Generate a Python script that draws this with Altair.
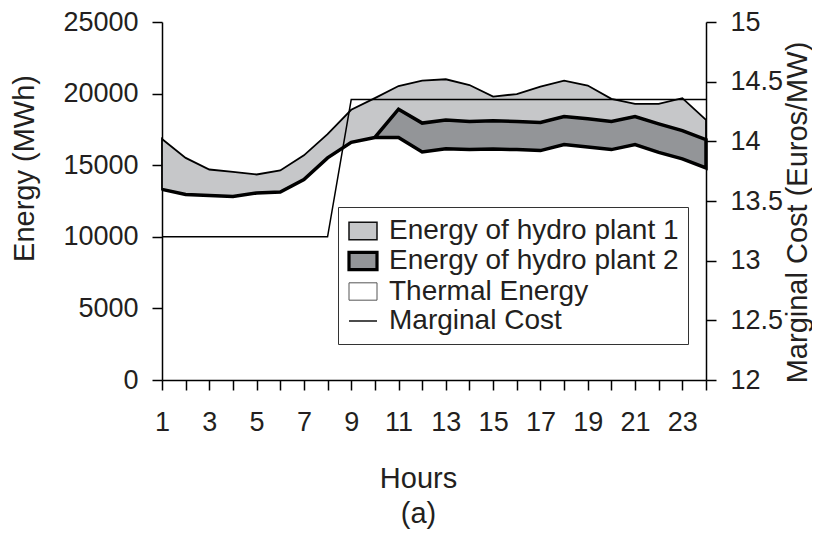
import altair as alt
import pandas as pd

hours = list(range(1, 25))
thermal = [13310, 12960, 12890, 12820, 13060, 13130, 14000, 15510, 16600, 16940,
           16940, 15920, 16150, 16090, 16130, 16090, 16020, 16440, 16270, 16090,
           16440, 15900, 15440, 14810]
hydro2 = [0, 0, 0, 0, 0, 0, 0, 0, 0, 0,
          1970, 2020, 2000, 1970, 1970, 1970, 1970, 1960, 1970, 1970,
          1960, 1990, 1970, 1970]
hydro1 = [3520, 2550, 1810, 1720, 1290, 1500, 1690, 1660, 2270, 2740,
          1620, 2960, 2850, 2540, 1690, 1910, 2500, 2500, 2320, 1570,
          880, 1390, 2270, 1390]
marginal_cost = [13.2, 13.2, 13.2, 13.2, 13.2, 13.2, 13.2, 13.2,
                 14.35, 14.35, 14.35, 14.35, 14.35, 14.35, 14.35, 14.35,
                 14.35, 14.35, 14.35, 14.35, 14.35, 14.35, 14.35, 14.35]
series_names = ["Energy of hydro plant 1", "Energy of hydro plant 2",
                "Thermal Energy", "Marginal Cost"]
energy_ticks = [0, 5000, 10000, 15000, 20000, 25000]
cost_ticks = [12, 12.5, 13, 13.5, 14, 14.5, 15]

df = pd.DataFrame({"hour": hours, "thermal": thermal, "hydro2": hydro2,
                   "hydro1": hydro1, "mc": marginal_cost})
df["mid"] = df["thermal"] + df["hydro2"]
df["top"] = df["mid"] + df["hydro1"]

legend_df = pd.DataFrame({"series": series_names})

FONT = "Liberation Sans"
TXT = "#231f20"

x_enc = alt.X("hour:Q",
              scale=alt.Scale(domain=[1, 24], nice=False, zero=False),
              axis=alt.Axis(values=hours, labelExpr="datum.value % 2 == 1 ? datum.label : ''",
                            title=["Hours", "(a)"], titleX=256, titleY=107,
                            titleAlign="center", titleBaseline="alphabetic",
                            titleLineHeight=35, tickSize=10, labelPadding=19,
                            labelFlush=False, labelOverlap=False))

left_axis = alt.Axis(values=energy_ticks, format="d", title="Energy (MWh)",
                     titleAngle=270, titleX=-129, titleY=146, titleAlign="center",
                     titleBaseline="alphabetic", tickSize=10, labelPadding=14,
                     labelFlush=False, labelOverlap=False)
y_scale = alt.Scale(domain=[0, 25000], nice=False)

base = alt.Chart(df)

area1 = base.mark_area(fill="#c6c7c9", stroke="black", strokeWidth=1.8,
                       strokeJoin="miter").encode(
    x=x_enc,
    y=alt.Y("top:Q", scale=y_scale, axis=left_axis),
    y2="mid:Q")

area2 = base.mark_area(fill="#939598", stroke="black", strokeWidth=3.5,
                       strokeJoin="miter").encode(
    x=x_enc,
    y=alt.Y("mid:Q", scale=y_scale, axis=left_axis),
    y2="thermal:Q")

leg = alt.Legend(orient="none", legendX=176, legendY=185, title=None)
legend_layer = alt.Chart(legend_df).transform_filter(
    alt.datum.series == "__none__").mark_point(
    filled=True, opacity=1, size=784).encode(
    fill=alt.Fill("series:N", scale=alt.Scale(domain=series_names,
                  range=["#c6c7c9", "#939598", "#ffffff", "#000000"]), legend=leg),
    stroke=alt.Stroke("series:N", scale=alt.Scale(domain=series_names,
                      range=["#111111", "#000000", "#555555", "#111111"]), legend=leg),
    shape=alt.Shape("series:N", scale=alt.Scale(domain=series_names,
                    range=["M-1,-0.62H1V0.62H-1Z", "M-1,-0.62H1V0.62H-1Z",
                           "M-1,-0.62H1V0.62H-1Z", "M-1,0H1"]), legend=leg),
    strokeWidth=alt.StrokeWidth("series:N", scale=alt.Scale(type="ordinal",
                                domain=series_names, range=[1.5, 3.2, 1.0, 1.5]),
                                legend=leg),
)

left = alt.layer(area1, area2, legend_layer)

line = base.mark_line(color="black", strokeWidth=1.5).encode(
    x=x_enc,
    y=alt.Y("mc:Q", scale=alt.Scale(domain=[12, 15], nice=False, zero=False),
            axis=alt.Axis(orient="right", values=cost_ticks, format="~g",
                          title="Marginal Cost (Euros/MW)", titleAngle=270,
                          titleX=100, titleY=190, titleAlign="center",
                          titleBaseline="alphabetic", tickSize=10, labelPadding=14,
                          labelFlush=False, labelOverlap=False)))

chart = alt.layer(left, line).resolve_scale(y="independent").properties(
    width=544, height=358,
    padding={"left": 154, "top": 14, "right": 106, "bottom": 150},
    autosize=alt.AutoSizeParams(type="none"),
).configure_view(stroke=None).configure_axis(
    grid=False, domainColor="black", tickColor="black", domainWidth=1.5,
    tickWidth=1.5, labelFont=FONT, labelFontSize=27, labelColor=TXT,
    titleFont=FONT, titleFontSize=29, titleColor=TXT, titleFontWeight="normal",
).configure_legend(
    labelFont=FONT, labelFontSize=28, labelColor=TXT, symbolSize=784,
    padding=9, labelOffset=10, rowPadding=0,
    fillColor="white", strokeColor="#333333", labelLimit=0,
)

chart.save("out.html", embed_options={"renderer": "svg", "actions": False})
